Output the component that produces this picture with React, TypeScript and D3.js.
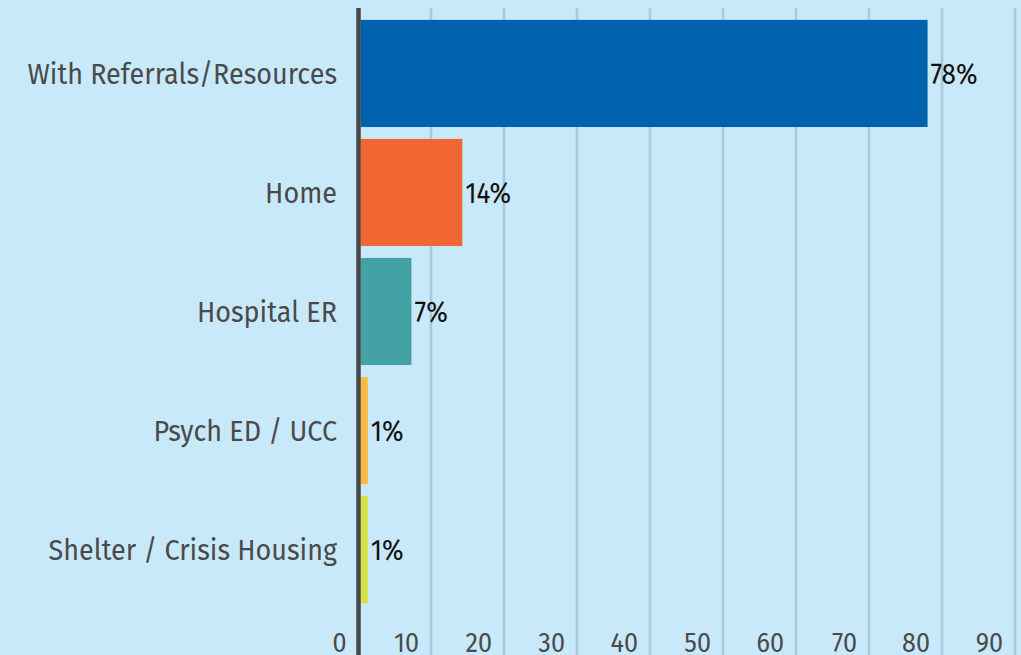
import React from "react";
import * as d3 from "d3";

const categories = [
  "With Referrals/Resources",
  "Home",
  "Hospital ER",
  "Psych ED / UCC",
  "Shelter / Crisis Housing",
];
const values = [78, 14, 7, 1, 1];
const valueLabels = ["78%", "14%", "7%", "1%", "1%"];
const barColors = ["#0061ae", "#f26633", "#44a2a7", "#fdb842", "#d7e042"];
const xTicks = [0, 10, 20, 30, 40, 50, 60, 70, 80, 90];

const W = 1021;
const H = 655;
const FONT = "'Fira Sans', Roboto, 'Open Sans', sans-serif";
const SX = 0.9;

export default function App() {
  // grid / tick scale
  const x = d3.scaleLinear().domain([0, 90]).range([358, 1015]);
  // bars start at the right edge of the thick axis line
  const xb = d3.scaleLinear().domain([0, 90]).range([360.5, 1014.8]);
  const y = d3
    .scaleBand<string>()
    .domain(categories)
    .range([8, 615])
    .paddingInner(0.1)
    .paddingOuter(0.1);
  const axisX = 358.5;

  return (
    <div style={{ position: "absolute", left: 0, top: 0 }}>
      <svg width={W} height={H} style={{ display: "block" }}>
        <rect x={0} y={0} width={W} height={H} fill="#c8e9f9" />
        {xTicks
          .filter((t) => t > 0)
          .map((t) => (
            <line
              key={"g" + t}
              x1={x(t)}
              x2={x(t)}
              y1={8}
              y2={H}
              stroke="#a9c8d9"
              strokeWidth={2.5}
            />
          ))}
        {categories.map((c, i) => (
          <rect
            key={"b" + c}
            x={xb(0)}
            y={y(c)}
            width={xb(values[i]) - xb(0)}
            height={y.bandwidth()}
            fill={barColors[i]}
          />
        ))}
        <line x1={axisX} x2={axisX} y1={8} y2={H} stroke="#474747" strokeWidth={4.5} />
        {categories.map((c, i) => (
          <text
            key={"v" + c}
            transform={`translate(${xb(values[i]) + 3},${(y(c) as number) + y.bandwidth() / 2 + 10.5}) scale(${SX},1)`}
            fontFamily={FONT}
            fontSize={29}
            fill="#111"
          >
            {valueLabels[i]}
          </text>
        ))}
        {categories.map((c) => (
          <text
            key={"c" + c}
            transform={`translate(${axisX - 21.5},${(y(c) as number) + y.bandwidth() / 2 + 10.5}) scale(${SX},1)`}
            textAnchor="end"
            fontFamily={FONT}
            fontSize={30}
            fill="#4a4a4a"
          >
            {c}
          </text>
        ))}
        {xTicks.map((t) => (
          <text
            key={"t" + t}
            transform={`translate(${(t === 0 ? axisX : x(t)) - 12},651.5) scale(${SX},1)`}
            textAnchor="end"
            fontFamily={FONT}
            fontSize={28}
            fill="#4a4a4a"
          >
            {t}
          </text>
        ))}
      </svg>
    </div>
  );
}
